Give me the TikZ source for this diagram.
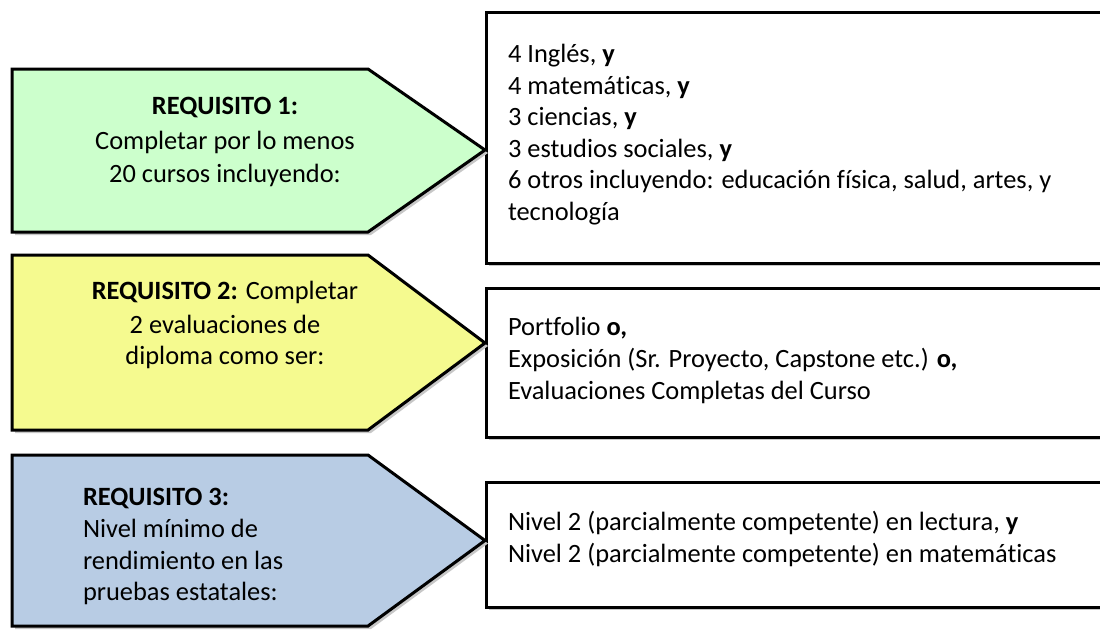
\documentclass[tikz,border=0pt]{standalone}
\usepackage{fontspec}
\setmainfont{Carlito}[Ligatures={NoCommon}]
\newlength{\du}
\setlength{\du}{1pt}
\definecolor{dialinecolor}{rgb}{0.000000, 0.000000, 0.000000}
\definecolor{shadowcolor}{rgb}{0.780000, 0.780000, 0.780000}
\definecolor{greenfill}{rgb}{0.800000, 1.000000, 0.800000}
\definecolor{yellowfill}{rgb}{0.960000, 0.980000, 0.560000}
\definecolor{bluefill}{rgb}{0.722000, 0.800000, 0.894000}

\begin{document}
\begin{tikzpicture}[even odd rule,
  outline/.style={draw=dialinecolor,line width=3\du,miter limit=20},
  shade/.style={fill=shadowcolor},
  reqtext/.style={anchor=base,inner sep=0pt,outer sep=0pt,color=dialinecolor,font=\fontsize{26.4}{32}\selectfont},
  reqleft/.style={anchor=base west,inner sep=0pt,outer sep=0pt,color=dialinecolor,font=\fontsize{26.4}{32}\selectfont},
  listtext/.style={anchor=base west,inner sep=0pt,outer sep=0pt,color=dialinecolor,font=\fontsize{26.4}{32}\selectfont}]
\pgftransformxscale{1.000000}
\pgftransformyscale{-1.000000}
\clip (0\du,0\du) rectangle (1100\du,629\du);
\fill[white] (0\du,0\du) rectangle (1100\du,629\du);
% boxes on the right
\fill[shade] (489\du,15\du) rectangle (1108\du,266\du);
\filldraw[outline,fill=white] (486\du,12\du) rectangle (1105\du,263\du);
\fill[shade] (489\du,291\du) rectangle (1108\du,440\du);
\filldraw[outline,fill=white] (486\du,288\du) rectangle (1105\du,437\du);
\fill[shade] (489\du,485\du) rectangle (1108\du,610\du);
\filldraw[outline,fill=white] (486\du,482\du) rectangle (1105\du,607\du);
% requisito 1
\fill[shade] (15\du,72\du)--(371\du,72\du)--(488\du,153\du)--(371\du,235\du)--(15\du,235\du)--cycle;
\filldraw[outline,fill=greenfill] (12\du,69\du)--(368\du,69\du)--(485\du,150\du)--(368\du,232\du)--(12\du,232\du)--cycle;
% requisito 2
\fill[shade] (15\du,258\du)--(371\du,258\du)--(488\du,346\du)--(371\du,433\du)--(15\du,433\du)--cycle;
\filldraw[outline,fill=yellowfill] (12\du,255\du)--(368\du,255\du)--(485\du,343\du)--(368\du,430\du)--(12\du,430\du)--cycle;
% requisito 3
\fill[shade] (15\du,458\du)--(371\du,458\du)--(488\du,543.5\du)--(371\du,629\du)--(15\du,629\du)--cycle;
\filldraw[outline,fill=bluefill] (12\du,455\du)--(368\du,455\du)--(485\du,540.5\du)--(368\du,626\du)--(12\du,626\du)--cycle;
% setfont left to latex
\node[reqtext] (req1a) at (225\du,114\du){\textbf{REQUISITO 1:}};
\node[reqtext] (req1b) at (225\du,149\du){Completar por lo menos};
\node[reqtext] (req1c) at (225\du,182\du){20 cursos incluyendo:};
\node[reqtext] (req2a) at (225\du,299\du){\textbf{REQUISITO 2:} Completar};
\node[reqtext] (req2b) at (225\du,333\du){2 evaluaciones de};
\node[reqtext] (req2c) at (225\du,364\du){diploma como ser:};
\node[reqleft] (req3a) at (83\du,505\du){\textbf{REQUISITO 3:}};
\node[reqleft] (req3b) at (83\du,537\du){Nivel mínimo de};
\node[reqleft] (req3c) at (83\du,569\du){rendimiento en las};
\node[reqleft] (req3d) at (83\du,600\du){pruebas estatales:};
% setfont left to latex
\node[listtext] (cursos1) at (508\du,62\du){4 Inglés, \textbf{y}};
\node[listtext] (cursos2) at (508\du,94\du){4 matemáticas, \textbf{y}};
\node[listtext] (cursos3) at (508\du,125\du){3 ciencias, \textbf{y}};
\node[listtext] (cursos4) at (508\du,157\du){3 estudios sociales, \textbf{y}};
\node[listtext] (cursos5) at (508\du,188\du){6 otros incluyendo: educación física, salud, artes, y};
\node[listtext] (cursos6) at (508\du,220\du){tecnología};
\node[listtext] (eval1) at (508\du,335\du){Portfolio \textbf{o,}};
\node[listtext] (eval2) at (508\du,367\du){Exposición (Sr. Proyecto, Capstone etc.) \textbf{o,}};
\node[listtext] (eval3) at (508\du,399\du){Evaluaciones Completas del Curso};
\node[listtext] (nivel1) at (508\du,530\du){Nivel 2 (parcialmente competente) en lectura, \textbf{y}};
\node[listtext] (nivel2) at (508\du,562\du){Nivel 2 (parcialmente competente) en matemáticas};
\end{tikzpicture}
\end{document}
